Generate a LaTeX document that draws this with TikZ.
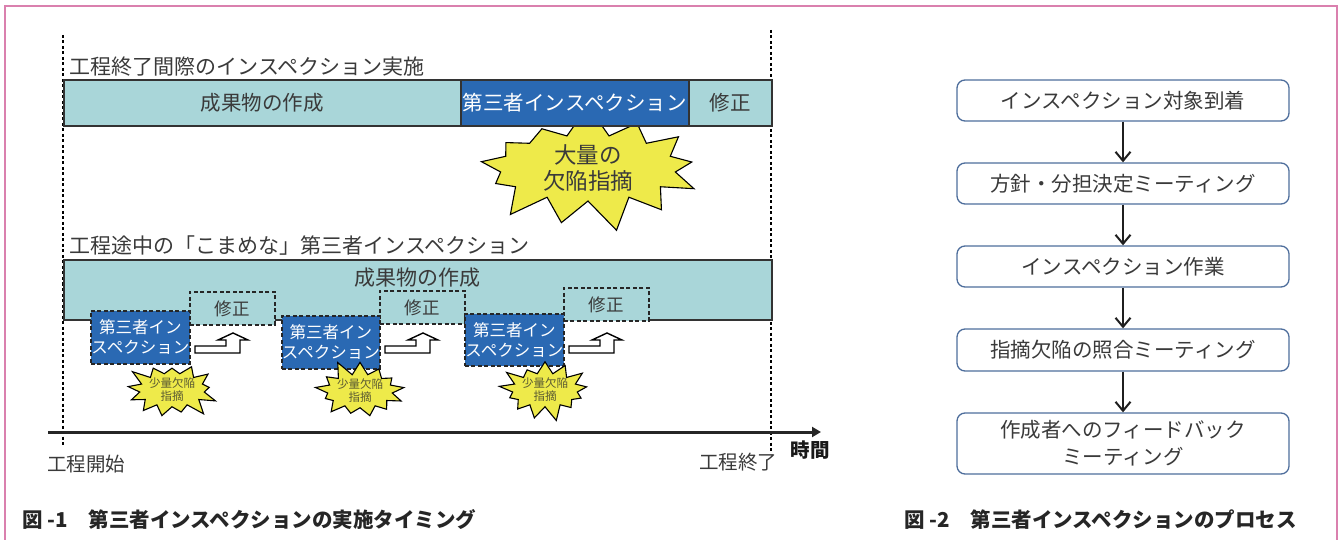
\documentclass[tikz,border=0pt]{standalone}
\usepackage{fontspec}
\setmainfont{Noto Sans CJK JP}
\usetikzlibrary{shapes.symbols,arrows.meta,calc}
\definecolor{teal1}{HTML}{A9D6D9}
\definecolor{blue1}{HTML}{2A69B3}
\definecolor{yel}{HTML}{EEEA4A}
\definecolor{txt}{HTML}{3A3A3A}
\definecolor{pink1}{HTML}{DA80AE}
\definecolor{boxb}{HTML}{4E6E9C}
\definecolor{olive}{HTML}{5A5A32}
\tikzset{
  bar/.style={draw=black!80, line width=1.6pt, fill=teal1, inner sep=0pt, text=txt,
    font=\fontsize{20.5}{24}\selectfont, anchor=north west},
  bluebar/.style={bar, fill=blue1, text=white},
  insp/.style={draw=black!85, dash pattern=on 4pt off 2.5pt, line width=1.8pt, fill=blue1,
    text=white, font=\fontsize{16.5}{20}\selectfont, align=center, inner sep=0pt, anchor=north west},
  fixbox/.style={draw=black!85, dash pattern=on 4pt off 2.5pt, line width=1.8pt, fill=teal1,
    text=txt, font=\fontsize{17.5}{20}\selectfont, inner sep=0pt, anchor=north west,
    minimum width=85pt, minimum height=33pt},
  burst/.style={starburst, fill=yel, draw=black, line width=1.1pt, align=center, inner sep=0pt},
  smallburst/.style={burst, minimum width=84pt, minimum height=54pt, starburst points=13,
    starburst point height=16pt, text=olive, font=\fontsize{11.5}{13}\selectfont},
  title/.style={anchor=west, text=txt, font=\fontsize{21}{24}\selectfont},
  vdash/.style={draw=black, line width=1.6pt, dash pattern=on 3pt off 2.5pt},
  proc/.style={draw=boxb, line width=1.3pt, rounded corners=8pt, fill=white,
    minimum width=332pt, text=txt, font=\fontsize{20.5}{27}\selectfont, align=center},
  procarrow/.style={draw=black!88, line width=2pt, -{Straight Barb[length=9pt,width=15pt,line width=2pt]}},
  caption/.style={anchor=west, text=black!85, font=\fontsize{20.5}{24}\selectfont\bfseries},
  steparrow/.pic={\draw[line width=1.4pt, fill=white, line join=miter]
    (0,13) -- (31,13) -- (31,7) -- (23,7) -- (38,0) -- (53,7) -- (45,7) -- (45,20) -- (0,20) -- cycle;}
}
\begin{document}
\begin{tikzpicture}[x=1pt,y=-1pt]
\useasboundingbox (0,0) rectangle (1339,540);
% frame
\draw[pink1, line width=1.8pt] (5,545) -- (5,6) -- (1337,6) -- (1337,545);

% dashed guide lines
\coordinate (gl1) at (63,35);
\coordinate (gl2) at (63,447);
\coordinate (gr1) at (771,30);
\coordinate (gr2) at (771,452);
\draw[vdash] (gl1) -- (gl2);
\draw[vdash] (gr1) -- (gr2);

% upper scenario
\node[title] (t1) at (66,67) {工程終了間際のインスペクション実施};
\node[burst, minimum width=240pt, minimum height=84pt, starburst points=13,
  starburst point height=32pt, random starburst=7, text=txt,
  font=\fontsize{22.5}{26}\selectfont] (big) at (588,168) {大量の\\欠陥指摘};
\node[bar, minimum width=397pt, minimum height=46pt] (a1) at (63,79) {成果物の作成};
\node[bluebar, minimum width=228pt, minimum height=46pt] (a2) at (460,79) {第三者インスペクション};
\node[bar, minimum width=83pt, minimum height=46pt] (a3) at (688,79) {修正};

% lower scenario
\node[title] (t2) at (66,246) {工程途中の「こまめな」第三者インスペクション};
\node[bar, minimum width=708pt, minimum height=60pt] (b0) at (63,259) {};
\node[text=txt, font=\fontsize{21}{24}\selectfont] (b0t) at (417,278) {成果物の作成};

\node[fixbox] (f1) at (189,291) {修正};
\node[fixbox] (f2) at (379,290) {修正};
\node[fixbox] (f3) at (563,287) {修正};
\node[insp, minimum width=99pt, minimum height=53pt] (i1) at (90,310) {第三者イン\\スペクション};
\node[insp, minimum width=98pt, minimum height=53pt] (i2) at (281,315) {第三者イン\\スペクション};
\node[insp, minimum width=99pt, minimum height=52pt] (i3) at (464,313) {第三者イン\\スペクション};

\pic at (195,333) {steparrow};
\pic at (385,333) {steparrow};
\pic at (569,333) {steparrow};

\node[smallburst, random starburst=3] (s1) at (172,390) {少量欠陥\\指摘};
\node[smallburst, random starburst=11] (s2) at (360,391) {少量欠陥\\指摘};
\node[smallburst, random starburst=21] (s3) at (545,390) {少量欠陥\\指摘};

% time axis
\coordinate (ax1) at (48,432);
\coordinate (ax2) at (821,432);
\draw[black!85, line width=3pt, -{Triangle[length=9pt,width=10pt]}] (ax1) -- (ax2);
\node[text=txt, font=\fontsize{19.5}{22}\selectfont] (ts) at (86,464) {工程開始};
\node[text=txt, font=\fontsize{19.5}{22}\selectfont] (te) at (738,462) {工程終了};
\node[text=black!90, font=\fontsize{19.5}{22}\selectfont\bfseries] (tm) at (810,450) {時間};

% process flow
\node[proc, minimum height=41pt] (p1) at (1123,100.5) {インスペクション対象到着};
\node[proc, minimum height=41pt] (p2) at (1123,183.5) {方針・分担決定ミーティング};
\node[proc, minimum height=41pt] (p3) at (1123,266.5) {インスペクション作業};
\node[proc, minimum height=42pt] (p4) at (1123,350) {指摘欠陥の照合ミーティング};
\node[proc, minimum height=61pt] (p5) at (1123,443.5) {作成者へのフィードバック\\ミーティング};
\draw[procarrow] (p1) -- (p2);
\draw[procarrow] (p2) -- (p3);
\draw[procarrow] (p3) -- (p4);
\draw[procarrow] (p4) -- (p5);

% captions
\node[caption] (c1) at (19,520) {図 -1　第三者インスペクションの実施タイミング};
\node[caption] (c2) at (901,520) {図 -2　第三者インスペクションのプロセス};
\end{tikzpicture}
\end{document}
